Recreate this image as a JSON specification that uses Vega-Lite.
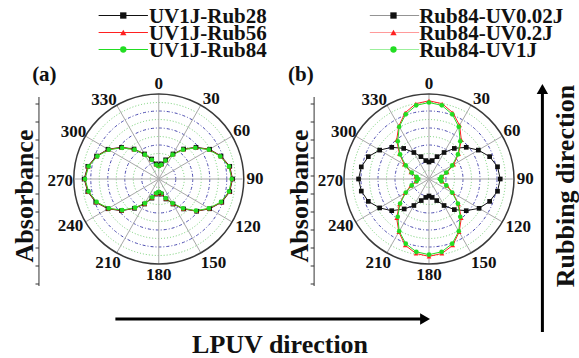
{
  "$schema": "https://vega.github.io/schema/vega-lite/v6.json",
  "width": 579,
  "height": 358,
  "autosize": {"type": "fit", "contains": "padding"},
  "padding": 0,
  "background": "white",
  "config": {"view": {"stroke": null}, "text": {"font": "Liberation Serif", "fontWeight": "bold", "color": "#111"}},
  "datasets": {
    "pol": [
      {"p":"a","a":0,"k":0.16,"r":0.155,"g":0.15},{"p":"a","a":10,"k":0.18,"r":0.175,"g":0.17},{"p":"a","a":20,"k":0.24,"r":0.235,"g":0.23},{"p":"a","a":30,"k":0.34,"r":0.335,"g":0.33},{"p":"a","a":40,"k":0.46,"r":0.455,"g":0.45},{"p":"a","a":50,"k":0.58,"r":0.575,"g":0.57},{"p":"a","a":60,"k":0.70,"r":0.695,"g":0.69},{"p":"a","a":70,"k":0.79,"r":0.785,"g":0.78},{"p":"a","a":80,"k":0.86,"r":0.855,"g":0.85},{"p":"a","a":90,"k":0.88,"r":0.875,"g":0.87},{"p":"a","a":100,"k":0.86,"r":0.855,"g":0.85},{"p":"a","a":110,"k":0.80,"r":0.795,"g":0.79},{"p":"a","a":120,"k":0.70,"r":0.695,"g":0.69},{"p":"a","a":130,"k":0.59,"r":0.585,"g":0.58},{"p":"a","a":140,"k":0.46,"r":0.455,"g":0.45},{"p":"a","a":150,"k":0.34,"r":0.335,"g":0.33},{"p":"a","a":160,"k":0.25,"r":0.245,"g":0.24},{"p":"a","a":170,"k":0.18,"r":0.175,"g":0.17},{"p":"a","a":180,"k":0.16,"r":0.155,"g":0.15},{"p":"a","a":190,"k":0.18,"r":0.175,"g":0.17},{"p":"a","a":200,"k":0.24,"r":0.235,"g":0.23},{"p":"a","a":210,"k":0.34,"r":0.335,"g":0.33},{"p":"a","a":220,"k":0.45,"r":0.445,"g":0.44},{"p":"a","a":230,"k":0.58,"r":0.575,"g":0.57},{"p":"a","a":240,"k":0.70,"r":0.695,"g":0.69},{"p":"a","a":250,"k":0.80,"r":0.795,"g":0.79},{"p":"a","a":260,"k":0.86,"r":0.855,"g":0.85},{"p":"a","a":270,"k":0.89,"r":0.885,"g":0.88},{"p":"a","a":280,"k":0.86,"r":0.855,"g":0.85},{"p":"a","a":290,"k":0.79,"r":0.785,"g":0.78},{"p":"a","a":300,"k":0.70,"r":0.695,"g":0.69},{"p":"a","a":310,"k":0.58,"r":0.575,"g":0.57},{"p":"a","a":320,"k":0.46,"r":0.455,"g":0.45},{"p":"a","a":330,"k":0.34,"r":0.335,"g":0.33},{"p":"a","a":340,"k":0.25,"r":0.245,"g":0.24},{"p":"a","a":350,"k":0.18,"r":0.175,"g":0.17},{"p":"a","a":360,"k":0.16,"r":0.155,"g":0.15},
      {"p":"b","a":0,"k":0.20,"r":0.92,"g":0.90},{"p":"b","a":10,"k":0.22,"r":0.90,"g":0.88},{"p":"b","a":20,"k":0.28,"r":0.83,"g":0.81},{"p":"b","a":30,"k":0.36,"r":0.73,"g":0.71},{"p":"b","a":40,"k":0.47,"r":0.60,"g":0.58},{"p":"b","a":50,"k":0.58,"r":0.46,"g":0.45},{"p":"b","a":60,"k":0.68,"r":0.34,"g":0.32},{"p":"b","a":70,"k":0.77,"r":0.23,"g":0.22},{"p":"b","a":80,"k":0.83,"r":0.16,"g":0.15},{"p":"b","a":90,"k":0.85,"r":0.14,"g":0.13},{"p":"b","a":100,"k":0.83,"r":0.16,"g":0.15},{"p":"b","a":110,"k":0.77,"r":0.23,"g":0.22},{"p":"b","a":120,"k":0.69,"r":0.33,"g":0.32},{"p":"b","a":130,"k":0.58,"r":0.46,"g":0.45},{"p":"b","a":140,"k":0.47,"r":0.60,"g":0.58},{"p":"b","a":150,"k":0.36,"r":0.72,"g":0.71},{"p":"b","a":160,"k":0.27,"r":0.83,"g":0.81},{"p":"b","a":170,"k":0.22,"r":0.89,"g":0.87},{"p":"b","a":180,"k":0.20,"r":0.91,"g":0.89},{"p":"b","a":190,"k":0.22,"r":0.89,"g":0.87},{"p":"b","a":200,"k":0.27,"r":0.83,"g":0.81},{"p":"b","a":210,"k":0.36,"r":0.72,"g":0.71},{"p":"b","a":220,"k":0.46,"r":0.60,"g":0.58},{"p":"b","a":230,"k":0.58,"r":0.46,"g":0.45},{"p":"b","a":240,"k":0.68,"r":0.33,"g":0.32},{"p":"b","a":250,"k":0.77,"r":0.23,"g":0.22},{"p":"b","a":260,"k":0.82,"r":0.16,"g":0.15},{"p":"b","a":270,"k":0.84,"r":0.14,"g":0.13},{"p":"b","a":280,"k":0.82,"r":0.16,"g":0.15},{"p":"b","a":290,"k":0.77,"r":0.23,"g":0.22},{"p":"b","a":300,"k":0.68,"r":0.34,"g":0.32},{"p":"b","a":310,"k":0.58,"r":0.46,"g":0.45},{"p":"b","a":320,"k":0.47,"r":0.60,"g":0.58},{"p":"b","a":330,"k":0.36,"r":0.72,"g":0.71},{"p":"b","a":340,"k":0.28,"r":0.83,"g":0.81},{"p":"b","a":350,"k":0.22,"r":0.90,"g":0.88},{"p":"b","a":360,"k":0.20,"r":0.92,"g":0.90}
    ],
    "rings": [
      {"p":"a","rr":0.1,"c":"g"},{"p":"a","rr":0.2,"c":"b"},{"p":"a","rr":0.3,"c":"g"},{"p":"a","rr":0.4,"c":"b"},{"p":"a","rr":0.5,"c":"g"},{"p":"a","rr":0.6,"c":"b"},{"p":"a","rr":0.7,"c":"g"},{"p":"a","rr":0.8,"c":"b"},{"p":"a","rr":0.9,"c":"g"},{"p":"a","rr":1.0,"c":"o"},
      {"p":"b","rr":0.1,"c":"g"},{"p":"b","rr":0.2,"c":"b"},{"p":"b","rr":0.3,"c":"g"},{"p":"b","rr":0.4,"c":"b"},{"p":"b","rr":0.5,"c":"g"},{"p":"b","rr":0.6,"c":"b"},{"p":"b","rr":0.7,"c":"g"},{"p":"b","rr":0.8,"c":"b"},{"p":"b","rr":0.9,"c":"g"},{"p":"b","rr":1.0,"c":"o"}
    ],
    "ang": [
      {"p":"a","a":0},{"p":"a","a":30},{"p":"a","a":60},{"p":"a","a":90},{"p":"a","a":120},{"p":"a","a":150},{"p":"a","a":180},{"p":"a","a":210},{"p":"a","a":240},{"p":"a","a":270},{"p":"a","a":300},{"p":"a","a":330},
      {"p":"b","a":0},{"p":"b","a":30},{"p":"b","a":60},{"p":"b","a":90},{"p":"b","a":120},{"p":"b","a":150},{"p":"b","a":180},{"p":"b","a":210},{"p":"b","a":240},{"p":"b","a":270},{"p":"b","a":300},{"p":"b","a":330}
    ],
    "ticks": [
      {"p":"a","t":0},{"p":"a","t":1},{"p":"a","t":2},{"p":"a","t":3},{"p":"a","t":4},{"p":"a","t":5},{"p":"a","t":6},{"p":"a","t":7},{"p":"a","t":8},{"p":"a","t":9},{"p":"a","t":10},
      {"p":"b","t":0},{"p":"b","t":1},{"p":"b","t":2},{"p":"b","t":3},{"p":"b","t":4},{"p":"b","t":5},{"p":"b","t":6},{"p":"b","t":7},{"p":"b","t":8},{"p":"b","t":9},{"p":"b","t":10}
    ],
    "leg": [
      {"p":"a","s":"k","i":0,"t":"UV1J-Rub28"},{"p":"a","s":"r","i":1,"t":"UV1J-Rub56"},{"p":"a","s":"g","i":2,"t":"UV1J-Rub84"},
      {"p":"b","s":"k","i":0,"t":"Rub84-UV0.02J"},{"p":"b","s":"r","i":1,"t":"Rub84-UV0.2J"},{"p":"b","s":"g","i":2,"t":"Rub84-UV1J"}
    ],
    "panels": [{"p":"a","t":"(a)"},{"p":"b","t":"(b)"}],
    "notes": [{"n":"lpuv","t":"LPUV direction"},{"n":"rub","t":"Rubbing direction"}],
    "arrows": [{"n":"h"},{"n":"v"}]
  },
  "encoding": {
    "x": {"field": "X", "type": "quantitative", "scale": {"domain": [0, 579], "nice": false, "zero": false}, "axis": null},
    "y": {"field": "Y", "type": "quantitative", "scale": {"domain": [0, 358], "nice": false, "zero": false, "reverse": true}, "axis": null}
  },
  "layer": [
    {
      "data": {"name": "rings"},
      "transform": [
        {"filter": "datum.c=='g'"},
        {"calculate": "datum.p=='a'?161:435", "as": "X"},
        {"calculate": "179", "as": "Y"}
      ],
      "mark": {"type": "point", "shape": "circle", "filled": false, "color": "#6fcf6f", "strokeWidth": 1, "strokeDash": [1, 2], "opacity": 1},
      "encoding": {"size": {"field": "rr", "type": "quantitative", "scale": {"type": "pow", "exponent": 2, "domain": [0, 1], "range": [0, 28900]}, "legend": null}}
    },
    {
      "data": {"name": "rings"},
      "transform": [
        {"filter": "datum.c=='b'"},
        {"calculate": "datum.p=='a'?161:435", "as": "X"},
        {"calculate": "179", "as": "Y"}
      ],
      "mark": {"type": "point", "shape": "circle", "filled": false, "color": "#4a4ab0", "strokeWidth": 1, "strokeDash": [3, 2, 1, 2], "opacity": 1},
      "encoding": {"size": {"field": "rr", "type": "quantitative", "legend": null}}
    },
    {
      "data": {"name": "ang"},
      "transform": [
        {"filter": "datum.a < 180"},
        {"calculate": "(datum.p=='a'?161:435)+85*sin(datum.a*PI/180)", "as": "X"},
        {"calculate": "179-85*cos(datum.a*PI/180)", "as": "Y"},
        {"calculate": "(datum.p=='a'?161:435)-85*sin(datum.a*PI/180)", "as": "X2"},
        {"calculate": "179+85*cos(datum.a*PI/180)", "as": "Y2"}
      ],
      "mark": {"type": "rule", "color": "#a8a8a8", "strokeWidth": 1},
      "encoding": {"x2": {"field": "X2"}, "y2": {"field": "Y2"}}
    },
    {
      "data": {"name": "rings"},
      "transform": [
        {"filter": "datum.c=='o'"},
        {"calculate": "datum.p=='a'?161:435", "as": "X"},
        {"calculate": "179", "as": "Y"}
      ],
      "mark": {"type": "point", "shape": "circle", "filled": false, "color": "#3a3a3a", "strokeWidth": 1.5, "opacity": 1},
      "encoding": {"size": {"field": "rr", "type": "quantitative", "legend": null}}
    },
    {
      "data": {"name": "pol"},
      "transform": [
        {"fold": ["k", "r", "g"], "as": ["s", "v"]},
        {"calculate": "(datum.p=='a'?161:435)+85*datum.v*sin(datum.a*PI/180)", "as": "X"},
        {"calculate": "179-85*datum.v*cos(datum.a*PI/180)", "as": "Y"}
      ],
      "mark": {"type": "line", "strokeWidth": 1},
      "encoding": {
        "color": {"field": "s", "type": "nominal", "scale": {"domain": ["k", "r", "g"], "range": ["#111111", "#ff2020", "#22dd22"]}, "legend": null},
        "detail": {"field": "p"},
        "order": {"field": "a", "type": "quantitative"}
      }
    },
    {
      "data": {"name": "pol"},
      "transform": [
        {"filter": "datum.a < 360"},
        {"fold": ["k", "r", "g"], "as": ["s", "v"]},
        {"calculate": "(datum.p=='a'?161:435)+85*datum.v*sin(datum.a*PI/180)", "as": "X"},
        {"calculate": "179-85*datum.v*cos(datum.a*PI/180)", "as": "Y"}
      ],
      "mark": {"type": "point", "filled": true, "size": 22, "opacity": 1},
      "encoding": {
        "color": {"field": "s", "type": "nominal", "legend": null},
        "shape": {"field": "s", "type": "nominal", "scale": {"domain": ["k", "r", "g"], "range": ["square", "triangle-up", "circle"]}, "legend": null}
      }
    },
    {
      "data": {"name": "ang"},
      "transform": [
        {"filter": {"field": "a", "oneOf": [0]}},
        {"calculate": "(datum.p=='a'?161:435)+85*sin(datum.a*PI/180)", "as": "X"},
        {"calculate": "179-85*cos(datum.a*PI/180)", "as": "Y"}
      ],
      "mark": {"type": "text", "fontSize": 17, "align": "center", "baseline": "alphabetic", "dy": -5},
      "encoding": {"text": {"field": "a", "type": "nominal"}}
    },
    {
      "data": {"name": "ang"},
      "transform": [
        {"filter": {"field": "a", "oneOf": [30, 60]}},
        {"calculate": "(datum.p=='a'?161:435)+85*sin(datum.a*PI/180)", "as": "X"},
        {"calculate": "179-85*cos(datum.a*PI/180)", "as": "Y"}
      ],
      "mark": {"type": "text", "fontSize": 17, "align": "left", "baseline": "alphabetic", "dx": 2, "dy": -1},
      "encoding": {"text": {"field": "a", "type": "nominal"}}
    },
    {
      "data": {"name": "ang"},
      "transform": [
        {"filter": {"field": "a", "oneOf": [90]}},
        {"calculate": "(datum.p=='a'?161:435)+85*sin(datum.a*PI/180)", "as": "X"},
        {"calculate": "179-85*cos(datum.a*PI/180)", "as": "Y"}
      ],
      "mark": {"type": "text", "fontSize": 17, "align": "left", "baseline": "middle", "dx": 4},
      "encoding": {"text": {"field": "a", "type": "nominal"}}
    },
    {
      "data": {"name": "ang"},
      "transform": [
        {"filter": {"field": "a", "oneOf": [120]}},
        {"calculate": "(datum.p=='a'?161:435)+85*sin(datum.a*PI/180)", "as": "X"},
        {"calculate": "179-85*cos(datum.a*PI/180)", "as": "Y"}
      ],
      "mark": {"type": "text", "fontSize": 17, "align": "left", "baseline": "middle", "dx": 4, "dy": 5},
      "encoding": {"text": {"field": "a", "type": "nominal"}}
    },
    {
      "data": {"name": "ang"},
      "transform": [
        {"filter": {"field": "a", "oneOf": [150]}},
        {"calculate": "(datum.p=='a'?161:435)+85*sin(datum.a*PI/180)", "as": "X"},
        {"calculate": "179-85*cos(datum.a*PI/180)", "as": "Y"}
      ],
      "mark": {"type": "text", "fontSize": 17, "align": "left", "baseline": "top", "dx": 0, "dy": 2},
      "encoding": {"text": {"field": "a", "type": "nominal"}}
    },
    {
      "data": {"name": "ang"},
      "transform": [
        {"filter": {"field": "a", "oneOf": [180]}},
        {"calculate": "(datum.p=='a'?161:435)+85*sin(datum.a*PI/180)", "as": "X"},
        {"calculate": "179-85*cos(datum.a*PI/180)", "as": "Y"}
      ],
      "mark": {"type": "text", "fontSize": 17, "align": "center", "baseline": "top", "dy": 3},
      "encoding": {"text": {"field": "a", "type": "nominal"}}
    },
    {
      "data": {"name": "ang"},
      "transform": [
        {"filter": {"field": "a", "oneOf": [210]}},
        {"calculate": "(datum.p=='a'?161:435)+85*sin(datum.a*PI/180)", "as": "X"},
        {"calculate": "179-85*cos(datum.a*PI/180)", "as": "Y"}
      ],
      "mark": {"type": "text", "fontSize": 17, "align": "right", "baseline": "top", "dx": 4, "dy": 2},
      "encoding": {"text": {"field": "a", "type": "nominal"}}
    },
    {
      "data": {"name": "ang"},
      "transform": [
        {"filter": {"field": "a", "oneOf": [240]}},
        {"calculate": "(datum.p=='a'?161:435)+85*sin(datum.a*PI/180)", "as": "X"},
        {"calculate": "179-85*cos(datum.a*PI/180)", "as": "Y"}
      ],
      "mark": {"type": "text", "fontSize": 17, "align": "right", "baseline": "middle", "dx": -3, "dy": 4},
      "encoding": {"text": {"field": "a", "type": "nominal"}}
    },
    {
      "data": {"name": "ang"},
      "transform": [
        {"filter": {"field": "a", "oneOf": [270]}},
        {"calculate": "(datum.p=='a'?161:435)+85*sin(datum.a*PI/180)", "as": "X"},
        {"calculate": "179-85*cos(datum.a*PI/180)", "as": "Y"}
      ],
      "mark": {"type": "text", "fontSize": 17, "align": "right", "baseline": "middle", "dx": -2, "dy": 2},
      "encoding": {"text": {"field": "a", "type": "nominal"}}
    },
    {
      "data": {"name": "ang"},
      "transform": [
        {"filter": {"field": "a", "oneOf": [300, 330]}},
        {"calculate": "(datum.p=='a'?161:435)+85*sin(datum.a*PI/180)", "as": "X"},
        {"calculate": "179-85*cos(datum.a*PI/180)", "as": "Y"}
      ],
      "mark": {"type": "text", "fontSize": 17, "align": "right", "baseline": "alphabetic", "dx": 0, "dy": 0},
      "encoding": {"text": {"field": "a", "type": "nominal"}}
    },
    {
      "data": {"name": "panels"},
      "transform": [
        {"calculate": "datum.p=='a'?39.5:318.5", "as": "X"},
        {"calculate": "97", "as": "Y"},
        {"calculate": "286", "as": "Y2"}
      ],
      "mark": {"type": "rule", "color": "#333", "strokeWidth": 1},
      "encoding": {"y2": {"field": "Y2"}}
    },
    {
      "data": {"name": "ticks"},
      "transform": [
        {"calculate": "datum.p=='a'?39.5:318.5", "as": "X"},
        {"calculate": "datum.X-3.5", "as": "X2"},
        {"calculate": "104+18*datum.t", "as": "Y"}
      ],
      "mark": {"type": "rule", "color": "#333", "strokeWidth": 1},
      "encoding": {"x2": {"field": "X2"}}
    },
    {
      "data": {"name": "panels"},
      "transform": [
        {"calculate": "datum.p=='a'?45:305", "as": "X"},
        {"calculate": "81", "as": "Y"}
      ],
      "mark": {"type": "text", "fontSize": 21, "align": "center", "baseline": "alphabetic"},
      "encoding": {"text": {"field": "t"}}
    },
    {
      "data": {"name": "panels"},
      "transform": [
        {"calculate": "'Absorbance'", "as": "t2"},
        {"calculate": "datum.p=='a'?33:312", "as": "X"},
        {"calculate": "196", "as": "Y"}
      ],
      "mark": {"type": "text", "fontSize": 26, "align": "center", "baseline": "alphabetic", "angle": 270},
      "encoding": {"text": {"field": "t2"}}
    },
    {
      "data": {"name": "leg"},
      "transform": [
        {"calculate": "datum.p=='a'?100:375", "as": "X"},
        {"calculate": "datum.X+50", "as": "X2"},
        {"calculate": "15.5+17*datum.i", "as": "Y"}
      ],
      "mark": {"type": "rule", "strokeWidth": 1},
      "encoding": {
        "x2": {"field": "X2"},
        "color": {"field": "s", "type": "nominal", "legend": null},
        "opacity": {"condition": {"test": "datum.p=='b'", "value": 0.45}, "value": 1}
      }
    },
    {
      "data": {"name": "leg"},
      "transform": [
        {"calculate": "datum.p=='a'?125:399", "as": "X"},
        {"calculate": "15.5+17*datum.i", "as": "Y"}
      ],
      "mark": {"type": "point", "filled": true, "size": 40, "opacity": 1},
      "encoding": {
        "color": {"field": "s", "type": "nominal", "legend": null},
        "shape": {"field": "s", "type": "nominal", "legend": null}
      }
    },
    {
      "data": {"name": "leg"},
      "transform": [
        {"calculate": "datum.p=='a'?151:425", "as": "X"},
        {"calculate": "15.5+17*datum.i", "as": "Y"}
      ],
      "mark": {"type": "text", "fontSize": 21, "align": "left", "baseline": "middle", "dy": 1},
      "encoding": {"text": {"field": "t"}}
    },
    {
      "data": {"name": "notes"},
      "transform": [
        {"filter": "datum.n=='lpuv'"},
        {"calculate": "284", "as": "X"},
        {"calculate": "345", "as": "Y"}
      ],
      "mark": {"type": "text", "fontSize": 26, "align": "center", "baseline": "middle"},
      "encoding": {"text": {"field": "t"}}
    },
    {
      "data": {"name": "notes"},
      "transform": [
        {"filter": "datum.n=='rub'"},
        {"calculate": "582", "as": "X"},
        {"calculate": "186", "as": "Y"}
      ],
      "mark": {"type": "text", "fontSize": 26, "align": "center", "baseline": "alphabetic", "angle": 270},
      "encoding": {"text": {"field": "t"}}
    },
    {
      "data": {"name": "arrows"},
      "transform": [
        {"calculate": "datum.n=='h'?117:550", "as": "X"},
        {"calculate": "datum.n=='h'?428:550", "as": "X2"},
        {"calculate": "datum.n=='h'?319:332", "as": "Y"},
        {"calculate": "datum.n=='h'?319:93", "as": "Y2"}
      ],
      "mark": {"type": "rule", "color": "#000", "strokeWidth": 3},
      "encoding": {"x2": {"field": "X2"}, "y2": {"field": "Y2"}}
    },
    {
      "data": {"name": "arrows"},
      "transform": [
        {"filter": "datum.n=='h'"},
        {"calculate": "431", "as": "X"},
        {"calculate": "319", "as": "Y"}
      ],
      "mark": {"type": "point", "shape": "triangle-right", "filled": true, "color": "#000", "size": 130, "opacity": 1}
    },
    {
      "data": {"name": "arrows"},
      "transform": [
        {"filter": "datum.n=='v'"},
        {"calculate": "550", "as": "X"},
        {"calculate": "89", "as": "Y"}
      ],
      "mark": {"type": "point", "shape": "triangle-up", "filled": true, "color": "#000", "size": 130, "opacity": 1}
    }
  ]
}
